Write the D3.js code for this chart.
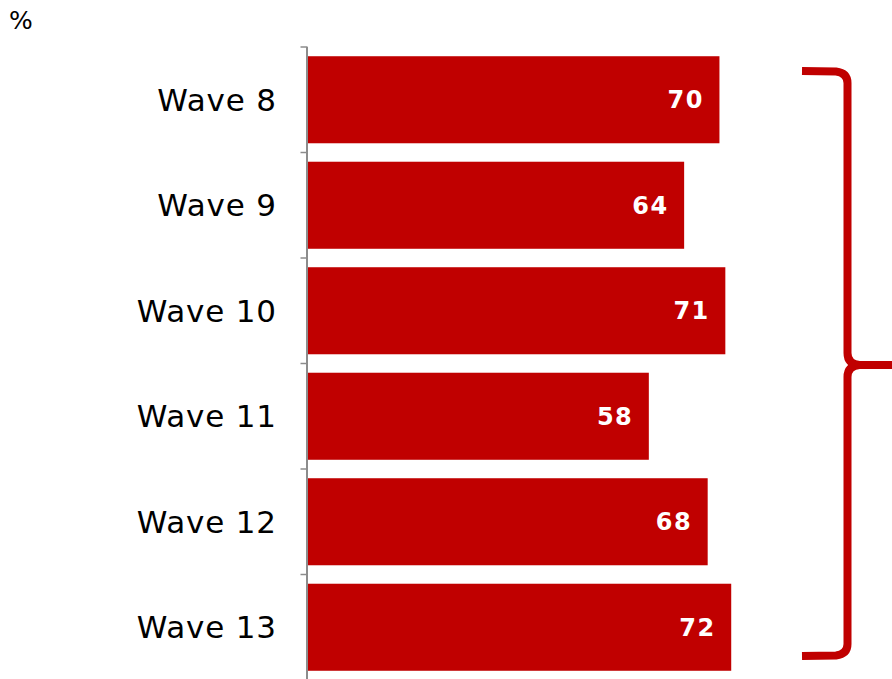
<!DOCTYPE html>
<html>
<head>
<meta charset="utf-8">
<script src="https://cdn.jsdelivr.net/npm/d3@7/dist/d3.min.js"></script>
<style>
  html, body { margin: 0; padding: 0; background: #fff; }
  svg { display: block; }
</style>
</head>
<body>
<svg id="chart" width="892" height="679"></svg>
<script>
const categories = ["Wave 8", "Wave 9", "Wave 10", "Wave 11", "Wave 12", "Wave 13"];
const values = [70, 64, 71, 58, 68, 72];
const unitLabel = "%";

(function () {
const svg = d3.select("#chart");
const W = 892, H = 679;
const barColor = "#C00000";
const font = "'DejaVu Sans', Verdana, sans-serif";

const x = d3.scaleLinear().domain([0, 100]).range([307.5, 896]);
const pi = 0.175;
const y = d3.scaleBand().domain(categories).range([47, 680]).paddingInner(pi).paddingOuter(pi / 2);
const step = y.step();

const data = categories.map((c, i) => ({ c, v: values[i] }));

// bars
svg.append("g").selectAll("rect").data(data).join("rect")
  .attr("x", x(0))
  .attr("y", d => y(d.c))
  .attr("width", d => x(d.v) - x(0))
  .attr("height", y.bandwidth())
  .attr("fill", barColor);

// value labels
svg.append("g").selectAll("text").data(data).join("text")
  .attr("x", d => x(d.v) - 15.5)
  .attr("y", d => y(d.c) + y.bandwidth() / 2)
  .attr("dy", "0.36em")
  .attr("text-anchor", "end")
  .attr("fill", "#fff")
  .attr("font-family", font)
  .attr("font-weight", "bold")
  .attr("font-size", 24)
  .attr("letter-spacing", 1.5)
  .text(d => d.v);

// axis line
const axisG = svg.append("g");
axisG.append("line")
  .attr("x1", x(0) - 0.5).attr("x2", x(0) - 0.5)
  .attr("y1", y.range()[0]).attr("y2", H)
  .attr("stroke", "#8c8c8c").attr("stroke-width", 2);

// ticks at band boundaries
const bounds = categories.map(c => y(c) - step * pi / 2);
bounds.push(y(categories[categories.length - 1]) + y.bandwidth() + step * pi / 2);
axisG.selectAll("line.tick").data(bounds).join("line")
  .attr("class", "tick")
  .attr("x1", x(0) - 7).attr("x2", x(0))
  .attr("y1", d => d).attr("y2", d => d)
  .attr("stroke", "#8c8c8c").attr("stroke-width", 1.5);

// category labels
svg.append("g").selectAll("text").data(categories).join("text")
  .attr("x", 276.8)
  .attr("y", d => y(d) + y.bandwidth() / 2)
  .attr("dy", "0.36em")
  .attr("text-anchor", "end")
  .attr("fill", "#000")
  .attr("font-family", font)
  .attr("font-size", 31)
  .attr("letter-spacing", 0.8)
  .text(d => d);

// unit label
svg.append("text")
  .attr("x", 9).attr("y", 29)
  .attr("font-family", font)
  .attr("font-size", 25)
  .attr("fill", "#000")
  .text(unitLabel);

// brace
const bx = 847.5, bTop = 71, bBot = 656, bMid = 365, bLeft = 802;
const brace = d3.path();
brace.moveTo(bLeft, bTop);
brace.lineTo(836, bTop + 0.5);
brace.quadraticCurveTo(bx, bTop + 2, bx, bTop + 12);
brace.lineTo(bx, bMid - 12);
brace.quadraticCurveTo(bx, bMid - 1, bx + 12, bMid);
brace.moveTo(bLeft, bBot);
brace.lineTo(836, bBot - 0.5);
brace.quadraticCurveTo(bx, bBot - 2, bx, bBot - 12);
brace.lineTo(bx, bMid + 12);
brace.quadraticCurveTo(bx, bMid + 1, bx + 12, bMid);
brace.lineTo(W + 5, bMid);
svg.append("path")
  .attr("d", brace.toString())
  .attr("fill", "none")
  .attr("stroke", barColor)
  .attr("stroke-width", 8)
  .attr("stroke-linejoin", "round");
})();
</script>
</body>
</html>
